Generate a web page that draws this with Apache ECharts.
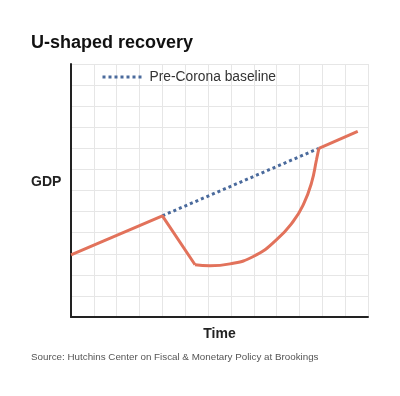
<!DOCTYPE html>
<html>
<head>
<meta charset="utf-8">
<script src="https://cdn.jsdelivr.net/npm/echarts@6/dist/echarts.min.js"></script>
<style>
  html, body { margin: 0; padding: 0; background: #fff; }
  #main { width: 400px; height: 396px; }
</style>
</head>
<body>
<div id="main"></div>
<script>
// GDP path (x = time units, y = GDP units)
const preCrisis = [[0, 2.95], [4, 4.8], [5.43, 2.48]];
const uRecovery = [[5.43, 2.48], [6.08, 2.43], [6.96, 2.52], [7.98, 2.87], [9, 3.67],
  [9.73, 4.54], [10.17, 5.33], [10.53, 6.37], [10.75, 7.48], [10.85, 8.0]];
const afterRecovery = [[10.85, 8.0], [12.55, 8.8]];
// pre-corona trend line
const baseline = [[4, 4.8], [10.85, 8.0]];

const red = '#e2725b';
const blue = '#4a6a9c';

const myChart = echarts.init(document.getElementById('main'));

const redLine = { width: 3, color: red };

const option = {
  animation: false,
  textStyle: { fontFamily: 'Liberation Sans, Arial, sans-serif' },
  title: [
    {
      text: 'U-shaped recovery',
      left: 31, top: 34, padding: 0,
      textStyle: { fontSize: 18, fontWeight: 'bold', color: '#111' }
    },
    {
      text: 'GDP',
      left: 31, top: 175, padding: 0,
      textStyle: { fontSize: 14, fontWeight: 'bold', color: '#222' }
    },
    {
      text: 'Source: Hutchins Center on Fiscal & Monetary Policy at Brookings',
      left: 31, top: 352, padding: 0,
      textStyle: { fontSize: 9.8, fontWeight: 'normal', color: '#555' }
    }
  ],
  legend: {
    data: ['Pre-Corona baseline'],
    left: 96, top: 65,
    itemWidth: 42, itemHeight: 14, itemGap: 10,
    itemStyle: { opacity: 0 },
    lineStyle: { width: 3, type: 'dotted', color: blue },
    textStyle: { fontSize: 13.8, color: '#333' }
  },
  grid: { left: 71, right: 32, top: 64, bottom: 79 },
  xAxis: {
    type: 'value', min: 0, max: 13, interval: 1,
    name: 'Time', nameLocation: 'middle', nameGap: 10,
    nameTextStyle: { fontSize: 14, fontWeight: 'bold', color: '#222', verticalAlign: 'top' },
    axisLine: { lineStyle: { color: '#222', width: 2 } },
    axisTick: { show: false },
    axisLabel: { show: false },
    splitLine: { lineStyle: { color: '#e6e6e6' } }
  },
  yAxis: {
    type: 'value', min: 0, max: 12, interval: 1,
    axisLine: { show: true, lineStyle: { color: '#222', width: 2 } },
    axisTick: { show: false },
    axisLabel: { show: false },
    splitLine: { lineStyle: { color: '#e6e6e6' } }
  },
  series: [
    {
      name: 'Pre-Corona baseline', type: 'line', data: baseline,
      symbol: 'none',
      lineStyle: { width: 3, color: blue, type: 'dotted' },
      itemStyle: { color: blue }
    },
    { name: 'GDP', type: 'line', data: preCrisis, symbol: 'none', lineStyle: redLine, z: 3 },
    {
      name: 'GDP', type: 'line', data: uRecovery, symbol: 'none',
      smooth: 0.5, lineStyle: redLine, z: 3
    },
    { name: 'GDP', type: 'line', data: afterRecovery, symbol: 'none', lineStyle: redLine, z: 3 }
  ]
};

myChart.setOption(option);
</script>
</body>
</html>
